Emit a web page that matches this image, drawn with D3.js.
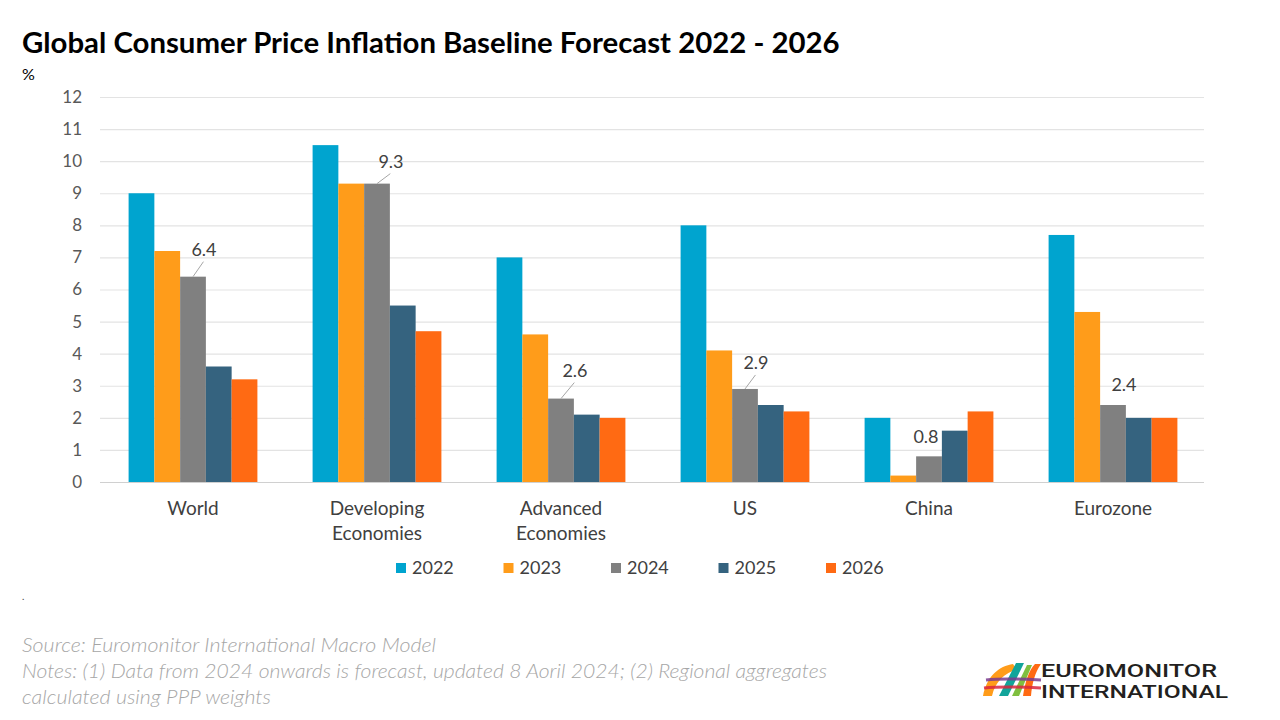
<!DOCTYPE html>
<html>
<head>
<meta charset="utf-8">
<script src="https://cdn.jsdelivr.net/npm/d3@7"></script>
<style>
  html, body { margin: 0; padding: 0; background: #fff; }
  svg { display: block; font-family: Lato, "Open Sans", sans-serif; }
</style>
</head>
<body>
<svg id="chart" width="1280" height="720"></svg>
<script>
// ---- data ----
const categories = ["World", "Developing Economies", "Advanced Economies", "US", "China", "Eurozone"];
const categoryLines = [["World"], ["Developing", "Economies"], ["Advanced", "Economies"], ["US"], ["China"], ["Eurozone"]];
const years = ["2022", "2023", "2024", "2025", "2026"];
const v2022 = [9.0, 10.5, 7.0, 8.0, 2.0, 7.7];
const v2023 = [7.2, 9.3, 4.6, 4.1, 0.2, 5.3];
const v2024 = [6.4, 9.3, 2.6, 2.9, 0.8, 2.4];
const v2025 = [3.6, 5.5, 2.1, 2.4, 1.6, 2.0];
const v2026 = [3.2, 4.7, 2.0, 2.2, 2.2, 2.0];
const yTicks = [0, 1, 2, 3, 4, 5, 6, 7, 8, 9, 10, 11, 12];
const labelledYear = "2024";

// ---- styles ----
const colors = { "2022": "#00a4cf", "2023": "#ff9c1a", "2024": "#808080", "2025": "#35637f", "2026": "#ff6a13" };
// label offsets relative to bar-top centre: [dx, dy, leaderLine]
const labelOffsets = [[11, -27, true], [14, -22, true], [14, -28, true], [11, -26, true], [-3, -20, false], [11, -20, false]];

const seriesValues = { "2022": v2022, "2023": v2023, "2024": v2024, "2025": v2025, "2026": v2026 };

(function () {
const svg = d3.select("#chart");
const pLeft = 100, pRight = 1204, pTop = 97, pBottom = 482;

const x0 = d3.scaleBand().domain(categories).range([pLeft + 1, pRight + 1]).paddingInner(0.3).paddingOuter(0.15);
const x1 = d3.scaleBand().domain(years).range([0, x0.bandwidth()]).padding(0);
const y = d3.scaleLinear().domain([0, 12]).range([pBottom, pTop]);

// title
const title = svg.append("text").attr("x", 22).attr("y", 53)
  .attr("font-family", "Lato, sans-serif").attr("font-weight", 700).attr("font-size", 27)
  .attr("fill", "#000").text("Global Consumer Price Inflation Baseline Forecast 2022 - 2026");
const tw = title.node().getComputedTextLength();
if (tw > 0) title.attr("font-size", 27 * 818 / tw);

svg.append("text").attr("x", 22).attr("y", 80).attr("font-size", 16).attr("fill", "#000").text("%");

// gridlines
svg.append("g").selectAll("line").data(yTicks).join("line")
  .attr("x1", pLeft).attr("x2", pRight)
  .attr("y1", d => y(d) + 0.5).attr("y2", d => y(d) + 0.5)
  .attr("stroke", d => d === 0 ? "#d0d0d0" : "#e3e3e3").attr("stroke-width", 1.2);

// y axis
const yAxis = d3.axisLeft(y).tickValues(yTicks).tickSize(0).tickPadding(0);
const gy = svg.append("g").attr("transform", `translate(82,0)`).call(yAxis);
gy.select(".domain").remove();
gy.selectAll("text").attr("font-family", "Lato, sans-serif").attr("font-size", 17).attr("fill", "#595959");

// bars
const groups = svg.append("g").selectAll("g").data(categories).join("g")
  .attr("transform", d => `translate(${x0(d)},0)`);
groups.selectAll("rect").data((c, i) => years.map(yr => ({ yr, v: seriesValues[yr][i] })))
  .join("rect")
  .attr("x", d => x1(d.yr)).attr("width", x1.bandwidth())
  .attr("y", d => y(d.v)).attr("height", d => y(0) - y(d.v))
  .attr("fill", d => colors[d.yr]);

// data labels for 2024
categories.forEach((c, i) => {
  const v = seriesValues[labelledYear][i];
  const cx = x0(c) + x1(labelledYear) + x1.bandwidth() / 2;
  const cy = y(v);
  const [dx, dy, leader] = labelOffsets[i];
  if (leader) {
    svg.append("line").attr("x1", cx).attr("y1", cy)
      .attr("x2", cx + dx * 0.95).attr("y2", cy + dy + 12)
      .attr("stroke", "#a6a6a6").attr("stroke-width", 1);
  }
  svg.append("text").attr("x", cx + dx).attr("y", cy + dy).attr("dy", "0.35em")
    .attr("text-anchor", "middle").attr("font-size", 18).attr("fill", "#404040")
    .text(d3.format(".1f")(v));
});

// category labels
const gx = svg.append("g");
categories.forEach((c, i) => {
  const t = gx.append("text").attr("x", x0(c) + x0.bandwidth() / 2).attr("y", 515)
    .attr("text-anchor", "middle").attr("font-size", 19).attr("fill", "#404040");
  categoryLines[i].forEach((ln, j) => {
    t.append("tspan").attr("x", x0(c) + x0.bandwidth() / 2).attr("dy", j === 0 ? 0 : 25).text(ln);
  });
});

// legend
const legend = svg.append("g").attr("transform", "translate(396,568)");
const lg = legend.selectAll("g").data(years).join("g")
  .attr("transform", (d, i) => `translate(${i * 107.5},0)`);
lg.append("rect").attr("x", 0).attr("y", -5).attr("width", 10).attr("height", 10).attr("fill", d => colors[d]);
lg.append("text").attr("x", 16).attr("y", 0).attr("dy", "0.35em").attr("font-size", 18).attr("fill", "#404040").text(d => d);

// footer
svg.append("text").attr("x", 22).attr("y", 600).attr("font-size", 10).attr("fill", "#404040").text(".");
const footLines = [
  ["Source: Euromonitor International Macro Model", 414],
  ["Notes: (1) Data from 2024 onwards is forecast, updated 8 Aoril 2024; (2) Regional aggregates", 805],
  ["calculated using PPP weights", 249]
];
const foot = svg.append("text").attr("font-size", 19).attr("font-style", "italic").attr("font-weight", 300).attr("fill", "#a6a6a6");
footLines.forEach(([ln, w], j) => {
  foot.append("tspan").attr("x", 22).attr("y", 652 + j * 26)
    .attr("textLength", w).attr("lengthAdjust", "spacingAndGlyphs").text(ln);
});

// logo
const logo = svg.append("g").attr("transform", "translate(983,660)");
logo.append("path").attr("d", "M0,36 C4,16 16,6 30,4 L34,10 C22,12 12,22 9,36 Z").attr("fill", "#ff9c1a");
logo.append("path").attr("d", "M16,36 L33,3 L41,3 L25,36 Z").attr("fill", "#12a49a");
logo.append("path").attr("d", "M29,36 L44,5 L49,5 L36,36 Z").attr("fill", "#7fbf3f");
logo.append("path").attr("d", "M40,36 C42,22 46,10 52,4 L58,4 C52,12 49,24 48,36 Z").attr("fill", "#ff6a13");
logo.append("path").attr("d", "M3,20 C20,18 40,19 58,20").attr("fill", "none").attr("stroke", "#7a3b8f").attr("stroke-width", 3).attr("opacity", 0.85);
logo.append("path").attr("d", "M1,28 C20,26 40,27 58,28").attr("fill", "none").attr("stroke", "#d9263f").attr("stroke-width", 3).attr("opacity", 0.85);
const logoWords = [["EUROMONITOR", 176, 17], ["INTERNATIONAL", 187, 37.5]];
logoWords.forEach(([w, len, yy]) => {
  logo.append("text").attr("x", 58).attr("y", yy)
    .attr("font-family", "Roboto, Lato, sans-serif").attr("font-weight", 500)
    .attr("font-size", 17.5).attr("fill", "#231f20")
    .attr("textLength", len).attr("lengthAdjust", "spacingAndGlyphs").text(w);
});
})();
</script>
</body>
</html>
